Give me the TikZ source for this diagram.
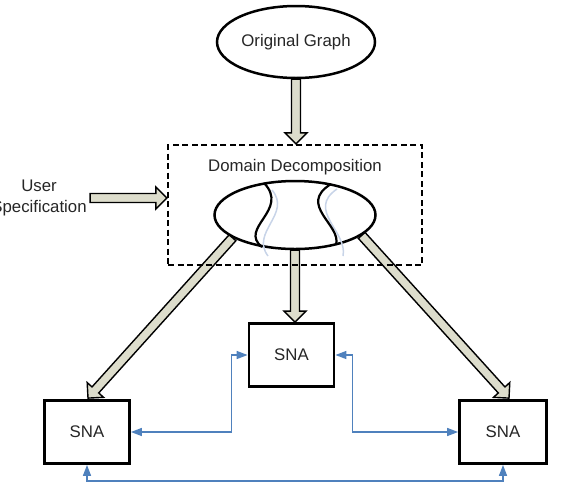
\documentclass[tikz,border=0pt]{standalone}
\usepackage{fontspec}
\setmainfont{Liberation Sans}
\usetikzlibrary{calc,shapes.geometric,arrows.meta,backgrounds}
\definecolor{arrfill}{RGB}{221,221,204}
\definecolor{connblue}{RGB}{79,129,189}
\definecolor{shadowblue}{RGB}{200,212,232}
\newcommand{\blockarr}[2]{%
  \path ($(#2)!11pt!(#1)$) coordinate (bH);
  \filldraw[blk] ($(#1)!4.5pt!90:(#2)$) -- ($(bH)!4.5pt!-90:(#1)$) -- ($(bH)!11pt!-90:(#1)$) -- (#2) -- ($(bH)!11pt!90:(#1)$) -- ($(bH)!4.5pt!90:(#1)$) -- ($(#1)!4.5pt!-90:(#2)$) -- cycle;}
\begin{document}
\begin{tikzpicture}[x=1pt,y=-1pt,
  every node/.style={font=\fontsize{16.8}{20.5}\selectfont, text=black!85},
  ell/.style={ellipse, draw, line width=2.5pt, fill=white, inner sep=0pt},
  snabox/.style={rectangle, draw, line width=2.8pt, minimum width=85pt, minimum height=63pt, fill=white},
  dbox/.style={rectangle, draw, line width=2.4pt, dash pattern=on 6pt off 3.5pt, minimum width=254pt, minimum height=120pt},
  blk/.style={draw=black, line width=1.4pt, fill=arrfill, line join=miter},
  conn/.style={draw=connblue, line width=1.5pt, {Triangle[length=11pt,width=8pt]}-{Triangle[length=11pt,width=8pt]}},
  split/.style={line width=2.2pt},
  splitshadow/.style={draw=shadowblue, line width=1.5pt},
]
\useasboundingbox (0,0) rectangle (561,483);

% nodes
\node[ell, minimum width=158pt, minimum height=72pt] (og) at (296,42) {Original Graph};
\node[dbox] (ddbox) at (295,205) {};
\node (ddlabel) at (295,167) {Domain Decomposition};
\node[ell, minimum width=161pt, minimum height=68pt] (dom) at (295,215) {};
\node[align=center] (us) at (39,198) {User\\Specification};
\node[snabox] (snaM) at (291.5,355) {SNA};
\node[snabox] (snaL) at (87,432) {SNA};
\node[snabox, minimum width=87pt] (snaR) at (503,432) {SNA};

% block arrows (behind nodes)
\begin{pgfonlayer}{background}
  \coordinate (ogT) at (og.south |- ddbox.north);
  \blockarr{og.south}{ogT}
  \coordinate (usT) at (ddbox.west |- us.east);
  \blockarr{us.east}{usT}
  \coordinate (midT) at (dom.south |- snaM.north);
  \blockarr{dom.south}{midT}
  \coordinate (lT) at ($(snaL.north)+(1,-1)$);
  \blockarr{dom.200}{lT}
  \coordinate (rT) at ($(snaR.north)+(6,-1)$);
  \blockarr{dom.-17}{rT}
\end{pgfonlayer}

% partition curves in the domain ellipse
\draw[splitshadow] (272,190) .. controls (292,214) and (250,232) .. (268,256);
\draw[splitshadow] (337,189) .. controls (306,210) and (348,232) .. (343,256);
\draw[split] (264,183) .. controls (290,210) and (238,228) .. (262,247);
\draw[split] (331,184) .. controls (297,205) and (342,225) .. (336,245);

% connectors
\draw[conn] (snaM.west) -- ++(-16,0) |- (snaL.east);
\draw[conn] (snaM.east) -- ++(17,0) |- (snaR.west);
\draw[conn] (snaL.south) -- ++(0,16) -| (snaR.south);
\end{tikzpicture}
\end{document}
